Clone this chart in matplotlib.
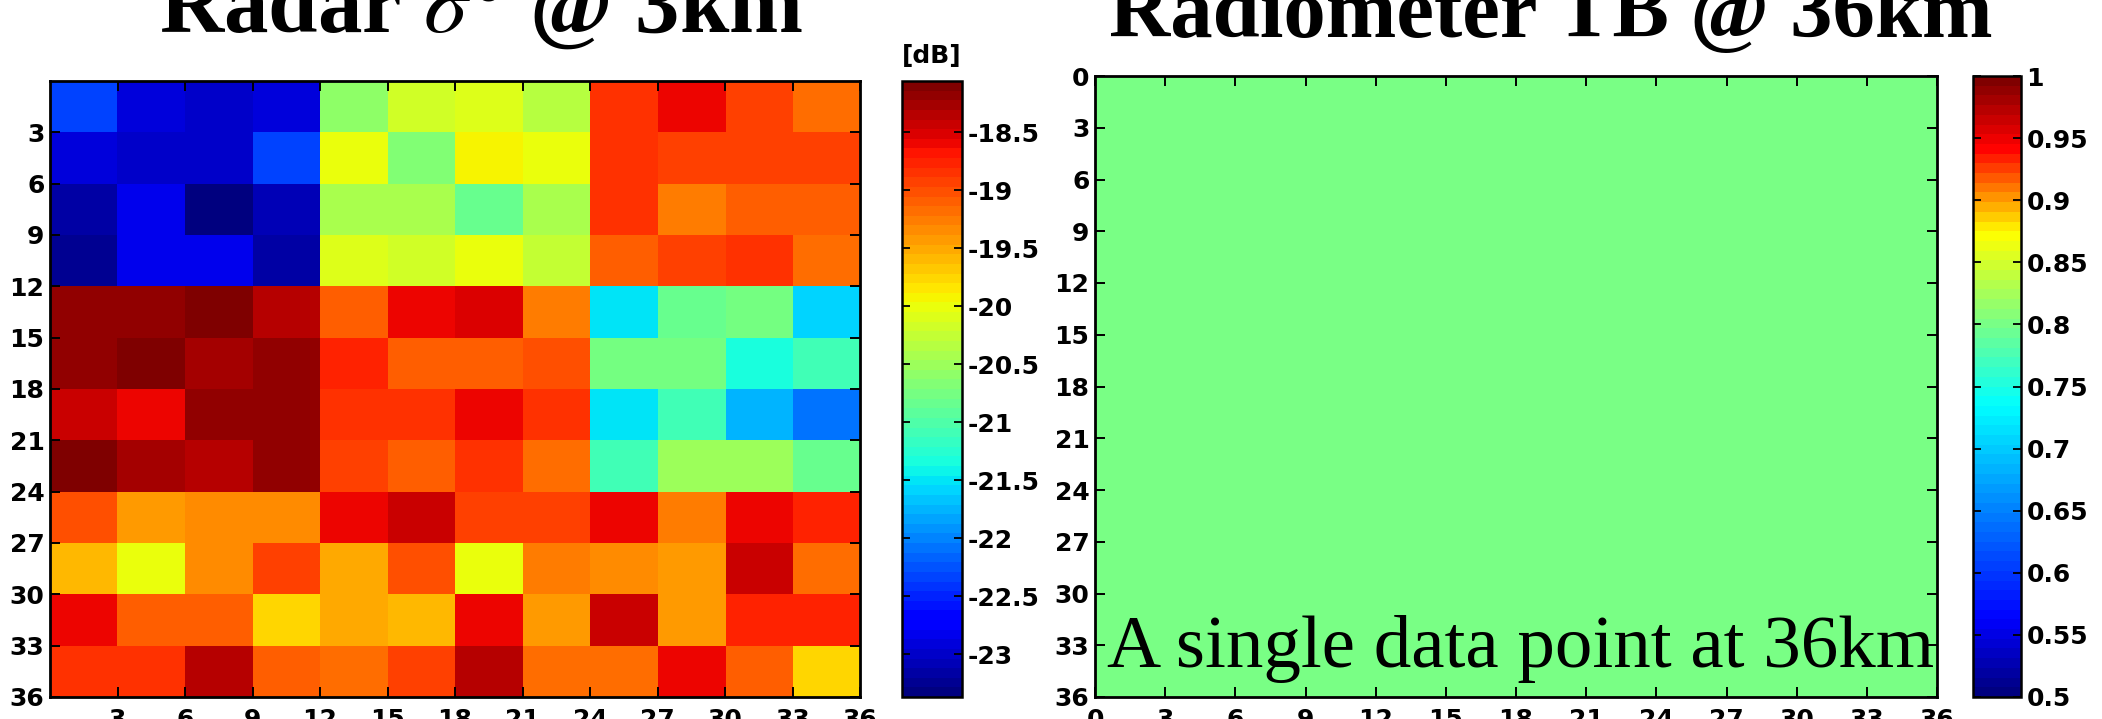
import numpy as np
import matplotlib
matplotlib.use('Agg')
import matplotlib.pyplot as plt
from matplotlib.colors import LinearSegmentedColormap
from matplotlib import font_manager

plt.rcParams['axes.unicode_minus'] = False
plt.rcParams['mathtext.fontset'] = 'stix'

# radar backscatter at 3km, 12 x 12 cells [dB] (row 0 = top)
radar_db = np.array([
    [-22.36, -22.94, -22.96, -22.90, -20.61, -20.16, -20.13, -20.36, -18.82, -18.56, -18.93, -19.15],
    [-22.94, -22.96, -23.02, -22.36, -20.02, -20.69, -19.94, -20.00, -18.82, -18.93, -18.96, -18.93],
    [-23.16, -22.84, -23.33, -23.12, -20.40, -20.40, -20.87, -20.45, -18.82, -19.23, -19.07, -19.07],
    [-23.25, -22.84, -22.84, -23.14, -20.08, -20.18, -20.00, -20.29, -19.12, -18.96, -18.86, -19.18],
    [-18.16, -18.22, -18.10, -18.35, -19.12, -18.64, -18.55, -19.25, -21.51, -20.82, -20.77, -21.56],
    [-18.18, -18.11, -18.24, -18.22, -18.75, -19.12, -19.12, -19.02, -20.77, -20.74, -21.30, -21.09],
    [-18.47, -18.56, -18.22, -18.22, -18.82, -18.82, -18.59, -18.82, -21.47, -21.09, -21.72, -22.10],
    [-18.14, -18.24, -18.33, -18.22, -18.94, -19.12, -18.82, -19.18, -21.09, -20.53, -20.48, -20.82],
    [-19.04, -19.47, -19.33, -19.33, -18.59, -18.47, -18.96, -18.96, -18.59, -19.25, -18.59, -18.75],
    [-19.60, -19.97, -19.33, -18.93, -19.49, -19.04, -19.97, -19.25, -19.36, -19.44, -18.47, -19.15],
    [-18.59, -19.12, -19.12, -19.79, -19.51, -19.60, -18.59, -19.44, -18.47, -19.47, -18.75, -18.75],
    [-18.82, -18.82, -18.33, -19.12, -19.18, -18.93, -18.33, -19.18, -19.18, -18.59, -19.12, -19.76],
])
radar_range = (-23.37, -18.06)
radar_cticks = [-23, -22.5, -22, -21.5, -21, -20.5, -20, -19.5, -19, -18.5]

# radiometer brightness temperature: one value for the whole 36km cell
radiometer_tb = np.array([[0.80]])
tb_range = (0.5, 1.0)
tb_cticks = [0.5, 0.55, 0.6, 0.65, 0.7, 0.75, 0.8, 0.85, 0.9, 0.95, 1.0]

extent_km = 36
left_ticks = [3, 6, 9, 12, 15, 18, 21, 24, 27, 30, 33, 36]
right_ticks = [0, 3, 6, 9, 12, 15, 18, 21, 24, 27, 30, 33, 36]

tick_font = font_manager.FontProperties(family='DejaVu Sans', weight='bold', size=18)

# jet variant used by the radiometer colorbar (stretched blue part)
tb_cmap = LinearSegmentedColormap.from_list('tbjet', [
    (0.00, (0.0, 0.0, 0.5)),
    (0.12, (0.0, 0.0, 1.0)),
    (0.47, (0.0, 1.0, 1.0)),
    (0.75, (1.0, 1.0, 0.0)),
    (0.89, (1.0, 0.0, 0.0)),
    (1.00, (0.5, 0.0, 0.0)),
], N=64)
radar_cmap = plt.get_cmap('jet', 64)


def style_axes(ax, ticks):
    ax.set_xticks(ticks)
    ax.set_yticks(ticks)
    ax.tick_params(direction='in', top=True, right=True, length=7, width=1.4, pad=4)
    ax.tick_params(axis='x', pad=8)
    for lab in ax.get_xticklabels() + ax.get_yticklabels():
        lab.set_fontproperties(tick_font)
    for sp in ax.spines.values():
        sp.set_linewidth(2)


def style_cbar(cb, ticks, labels):
    cb.set_ticks(ticks)
    cb.set_ticklabels(labels)
    cb.ax.tick_params(direction='in', left=True, right=True, length=6, width=1.3, pad=4)
    for lab in cb.ax.get_yticklabels():
        lab.set_fontproperties(tick_font)
    cb.outline.set_linewidth(1.8)


fig = plt.figure(figsize=(21.02, 7.19), dpi=100)

W, H = 2102.0, 719.0
def box(x0, y0, x1, y1):
    return [x0 / W, 1 - y1 / H, (x1 - x0) / W, (y1 - y0) / H]

ax1 = fig.add_axes(box(50, 81, 860, 697))
cax1 = fig.add_axes(box(902, 81, 962, 697))
ax2 = fig.add_axes(box(1095, 76, 1937, 697))
cax2 = fig.add_axes(box(1973, 76, 2021, 697))

im1 = ax1.imshow(radar_db, cmap=radar_cmap, vmin=radar_range[0], vmax=radar_range[1],
                 extent=[0, extent_km, extent_km, 0], aspect='auto', interpolation='nearest')
ax1.set_xlim(0, extent_km)
ax1.set_ylim(extent_km, 0)
style_axes(ax1, left_ticks)
cb1 = fig.colorbar(im1, cax=cax1)
style_cbar(cb1, radar_cticks, ['%g' % t for t in radar_cticks])

im2 = ax2.imshow(radiometer_tb, cmap=tb_cmap, vmin=tb_range[0], vmax=tb_range[1],
                 extent=[0, extent_km, extent_km, 0], aspect='auto', interpolation='nearest')
ax2.set_xlim(0, extent_km)
ax2.set_ylim(extent_km, 0)
style_axes(ax2, right_ticks)
cb2 = fig.colorbar(im2, cax=cax2)
style_cbar(cb2, tb_cticks, ['%g' % t for t in tb_cticks])

ax2.text(0.014, 0.048, 'A single data point at 36km', transform=ax2.transAxes,
         family='Liberation Serif', fontsize=54, va='baseline', ha='left')

fig.text(481 / W, 1 - 32 / H, r'Radar $\sigma^0$ @ 3km', family='Liberation Serif',
         weight='bold', fontsize=64, ha='center', va='baseline')
fig.text(1551 / W, 1 - 37 / H, 'Radiometer TB @ 36km', family='Liberation Serif',
         weight='bold', fontsize=61, ha='center', va='baseline')
fig.text(932 / W, 1 - 63 / H, '[dB]', family='DejaVu Sans', weight='bold',
         fontsize=18, ha='center', va='baseline')

fig.savefig('out.png', dpi=100)
